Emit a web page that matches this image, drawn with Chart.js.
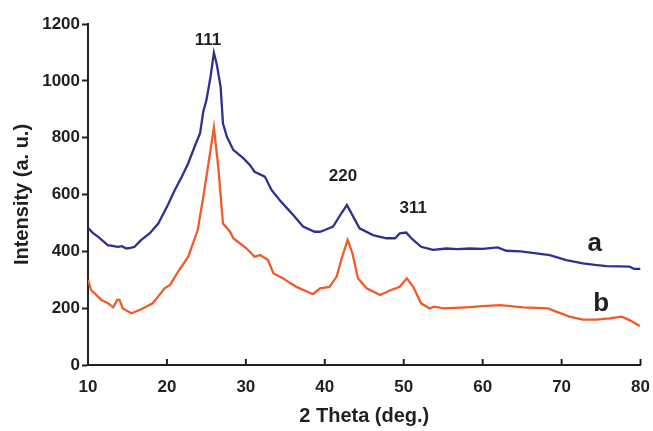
<!DOCTYPE html>
<html>
<head>
<meta charset="utf-8">
<script src="https://cdn.jsdelivr.net/npm/chart.js@4/dist/chart.umd.min.js"></script>
<style>
  html, body { margin: 0; padding: 0; background: #fff; }
  #wrap { width: 653px; height: 431px; }
</style>
</head>
<body>
<div id="wrap"><canvas id="xrd"></canvas></div>
<script>
// pattern a (blue)
const thetaA = [10, 10.6, 11.3, 12.5, 13.8, 14.3, 14.85, 15.4, 15.9, 16.75, 17.8, 18.9, 20.1, 21.0, 21.9, 22.7, 23.5, 24.2, 24.6, 25.0, 25.5, 25.95, 26.3, 26.8, 27.1, 27.6, 28.4, 29.7, 30.5, 31.1, 32.4, 33.25, 34.3, 35.2, 36.0, 37.25, 38.7, 39.4, 40.0, 41.05, 42.1, 42.8, 43.6, 44.4, 46.1, 47.8, 48.9, 49.5, 50.3, 51.2, 52.2, 53.7, 55.4, 56.8, 58.35, 60, 61.9, 63.0, 64.8, 66.8, 68.5, 70.6, 72.7, 74.2, 75.7, 77.2, 78.6, 79.2, 80];
const intensityA = [483, 465, 451, 422, 416, 418, 410, 412, 416, 440, 463, 498, 562, 616, 663, 710, 768, 816, 891, 932, 1010, 1099, 1060, 979, 850, 803, 757, 727, 704, 680, 663, 616, 580, 552, 528, 487, 469, 469, 475, 487, 534, 563, 522, 481, 457, 446, 446, 463, 466, 440, 416, 405, 410, 408, 410, 409, 414, 402, 400, 393, 387, 369, 358, 352, 348, 347, 346, 338, 338];

// pattern b (orange)
const thetaB = [10, 10.4, 11.7, 12.5, 13.2, 13.7, 14.0, 14.4, 15.5, 16.75, 18.2, 19.0, 19.7, 20.4, 21.4, 22.7, 23.9, 24.6, 25.2, 25.95, 26.5, 27.1, 28.0, 28.4, 30.1, 31.1, 31.8, 32.8, 33.5, 34.7, 35.5, 36.4, 38.5, 39.4, 40.6, 41.5, 42.2, 42.9, 43.5, 44.2, 45.3, 47.0, 48.4, 49.5, 50.4, 51.2, 52.2, 53.3, 53.9, 55.0, 57.9, 60, 62.2, 65.1, 68.3, 69.3, 71.0, 72.7, 74.4, 76.1, 77.6, 78.6, 79.9];
const intensityB = [299, 264, 229, 218, 203, 229, 229, 199, 182, 196, 217, 245, 270, 282, 328, 381, 475, 590, 698, 836, 698, 498, 469, 446, 410, 381, 387, 369, 322, 305, 290, 275, 249, 270, 275, 311, 381, 440, 393, 305, 270, 246, 264, 275, 305, 275, 217, 199, 205, 199, 203, 207, 211, 203, 199, 188, 170, 160, 160, 164, 170, 158, 137];

// peak labels (hkl) and curve labels
const peakLabels = ['111', '220', '311'];
const peakTheta = [25.2, 42.3, 51.2];
const peakY = [1141, 665, 551];
const curveLabels = ['a', 'b'];
const curveTheta = [74.2, 75.0];
const curveY = [428, 217];

const ink = '#231f20';
const fontFam = '"Liberation Sans", Arial, sans-serif';

const toPts = (xs, ys) => xs.map((x, i) => ({ x: x, y: ys[i] }));

// text labels and inward x ticks, placed through the scales
const extras = {
  id: 'extras',
  afterDatasetsDraw(chart) {
    const { ctx, scales: { x, y }, chartArea } = chart;
    ctx.save();
    ctx.strokeStyle = ink;
    ctx.lineWidth = 2;
    x.ticks.forEach(t => {
      const px = x.getPixelForValue(t.value);
      ctx.beginPath();
      ctx.moveTo(px, chartArea.bottom);
      ctx.lineTo(px, chartArea.bottom - 6);
      ctx.stroke();
    });
    ctx.fillStyle = ink;
    ctx.textAlign = 'center';
    ctx.textBaseline = 'middle';
    ctx.font = 'bold 17px ' + fontFam;
    peakLabels.forEach((s, i) => {
      ctx.fillText(s, x.getPixelForValue(peakTheta[i]), y.getPixelForValue(peakY[i]));
    });
    ctx.font = 'bold 26px ' + fontFam;
    curveLabels.forEach((s, i) => {
      ctx.fillText(s, x.getPixelForValue(curveTheta[i]), y.getPixelForValue(curveY[i]));
    });
    ctx.restore();
  }
};

new Chart(document.getElementById('xrd'), {
  type: 'line',
  data: {
    datasets: [
      { label: 'a', data: toPts(thetaA, intensityA), borderColor: '#2e3192', borderWidth: 2.3, pointRadius: 0, tension: 0 },
      { label: 'b', data: toPts(thetaB, intensityB), borderColor: '#f15a29', borderWidth: 2.3, pointRadius: 0, tension: 0 }
    ]
  },
  options: {
    responsive: true,
    maintainAspectRatio: false,
    animation: false,
    layout: { padding: { top: 24, right: 12, left: 0, bottom: 0 } },
    plugins: { legend: { display: false }, tooltip: { enabled: false } },
    scales: {
      x: {
        type: 'linear',
        min: 10,
        max: 80,
        ticks: { stepSize: 10, color: ink, font: { family: fontFam, size: 17, weight: 'bold' }, padding: 3, maxRotation: 0, callback: v => String(v) },
        grid: { display: true, drawOnChartArea: false, drawTicks: true, tickLength: 9, tickColor: 'rgba(0,0,0,0)' },
        border: { color: ink, width: 2 },
        title: { display: true, text: '2 Theta (deg.)', color: ink, font: { family: fontFam, size: 20, weight: 'bold' }, padding: { top: 0, bottom: 3 } },
        afterFit: s => { s.height = 66; }
      },
      y: {
        min: 0,
        max: 1200,
        ticks: { stepSize: 200, color: ink, font: { family: fontFam, size: 17, weight: 'bold' }, padding: 2, callback: v => String(v) },
        grid: { display: true, drawOnChartArea: false, drawTicks: true, tickLength: 6, tickWidth: 2, color: ink },
        border: { color: ink, width: 2 },
        title: { display: true, text: 'Intensity (a. u.)', color: ink, font: { family: fontFam, size: 20, weight: 'bold' }, padding: { top: 10, bottom: 0 } },
        afterFit: s => { s.width = 88; }
      }
    }
  },
  plugins: [extras]
});
</script>
</body>
</html>
